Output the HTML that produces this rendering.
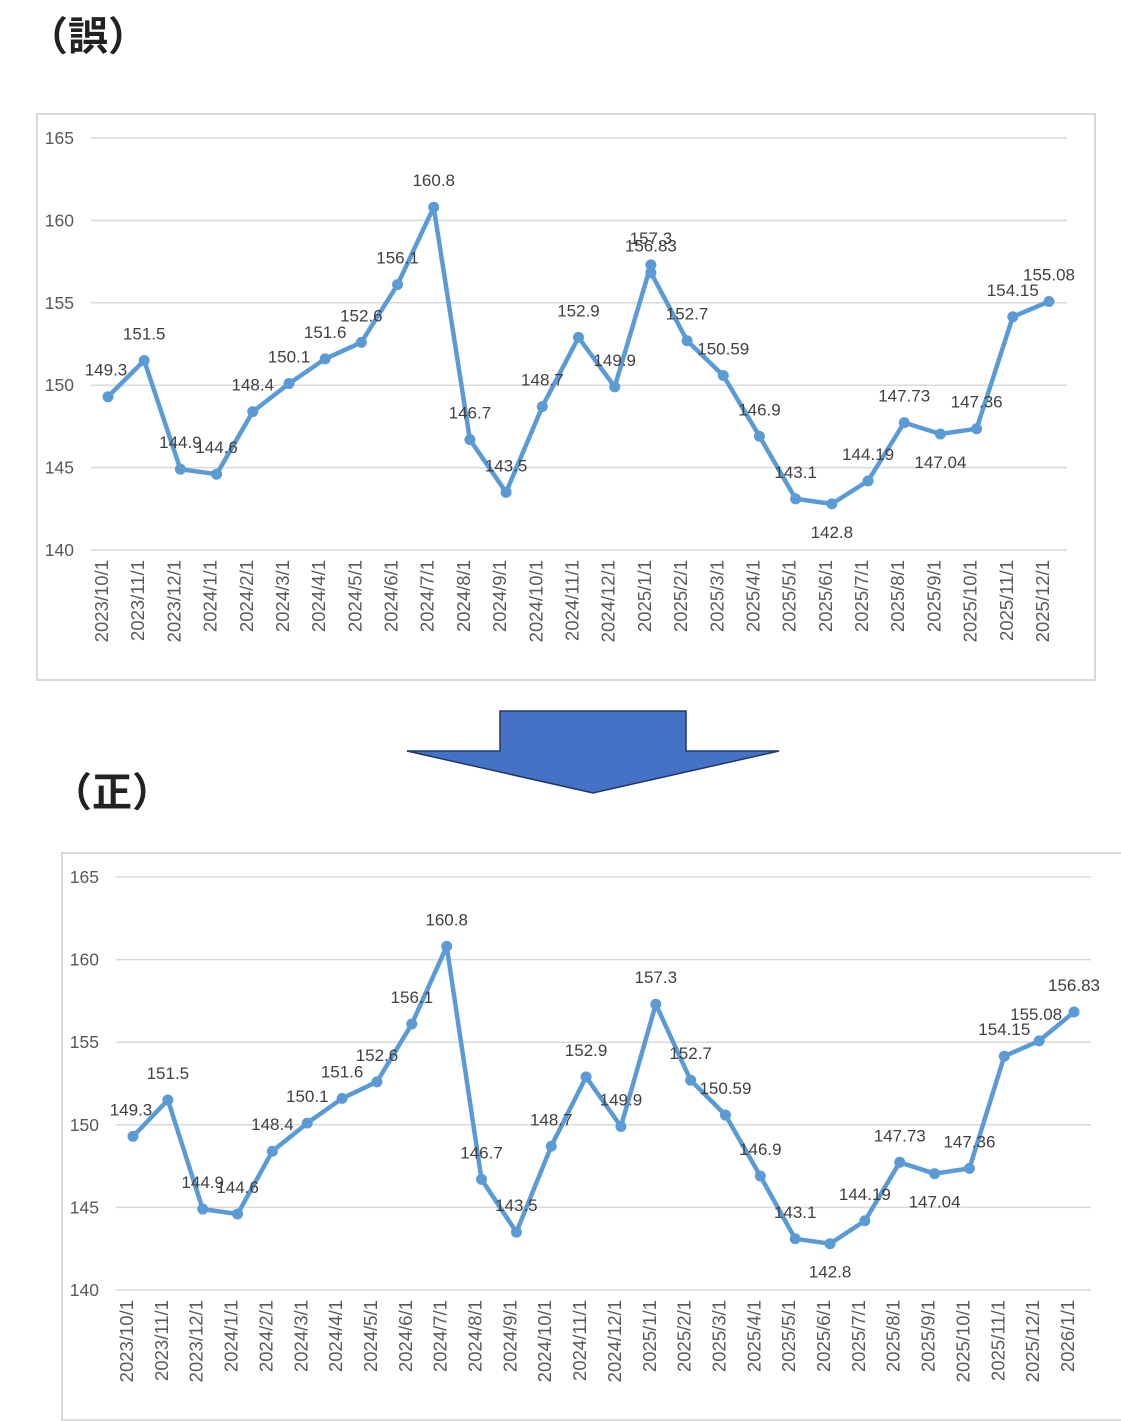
<!DOCTYPE html>
<html><head><meta charset="utf-8"><style>
html,body{margin:0;padding:0;background:#fff;width:1121px;height:1421px;overflow:hidden}
svg{position:absolute;left:0;top:0}
text{font-family:"Liberation Sans","Noto Sans CJK JP",sans-serif}
</style></head><body>
<svg id="s" width="1121" height="1421" xmlns="http://www.w3.org/2000/svg">
<text x="28" y="50" font-size="40" font-weight="bold" fill="#222">（誤）</text>
<text x="52" y="806" font-size="40" font-weight="bold" fill="#222">（正）</text>
<polygon points="500,711 686,711 686,751 779,751 593,793 407,751 500,751" fill="#4472c4" stroke="#1f3864" stroke-width="1.5"/>
</svg>
<script>
var s=document.getElementById('s'),NS='http://www.w3.org/2000/svg';
function el(t,a,txt){var e=document.createElementNS(NS,t);for(var k in a)e.setAttribute(k,a[k]);if(txt!=null)e.textContent=txt;s.appendChild(e);return e;}
function chart(o){
 el('rect',{x:o.bx,y:o.by,width:o.bw,height:o.bh,fill:'#fff',stroke:'#d9d9d9','stroke-width':2});
 var sc=(o.y140-o.y165)/25;
 function Y(v){return o.y140-(v-140)*sc;}
 for(var v=140;v<=165;v+=5){var y=Y(v);el('line',{x1:o.gx1,x2:o.gx2,y1:y,y2:y,stroke:'#d9d9d9','stroke-width':1.5});
  el('text',{x:o.gx1-17,y:y+6,'font-size':17.5,fill:'#595959','text-anchor':'end'},v);}
 var n=o.cats.length,st=(o.xl-o.x0)/(n-1);
 function X(i){return o.x0+i*st;}
 o.cats.forEach(function(c,i){var x=X(i),y=o.y140+16;
  el('text',{x:x+6,y:y,'font-size':18.5,fill:'#595959','text-anchor':'end',transform:'rotate(-90 '+x+' '+y+')'},c);});
 var pts=o.pts.map(function(p){return X(p[0]).toFixed(1)+','+Y(p[1]).toFixed(1);}).join(' ');
 el('polyline',{points:pts,fill:'none',stroke:'#5b9bd5','stroke-width':4.5,'stroke-linejoin':'round'});
 o.pts.forEach(function(p){var x=X(p[0]),y=Y(p[1]);el('circle',{cx:x,cy:y,r:5.5,fill:'#5b9bd5'});
  var dy=p[3]?34:-21;el('text',{x:x+(p[4]||0),y:y+dy,'font-size':17,fill:'#404040','text-anchor':'middle'},p[2]);});
}
var vals=[149.3,151.5,144.9,144.6,148.4,150.1,151.6,152.6,156.1,160.8,146.7,143.5,148.7,152.9,149.9,157.3,152.7,150.59,146.9,143.1,142.8,144.19,147.73,147.04,147.36,154.15,155.08];
var below={20:1,23:1};
function cats(n){var r=[],y=2023,m=10;for(var i=0;i<n;i++){r.push(y+'/'+m+'/1');m++;if(m>12){m=1;y++;}}return r;}
var p1=[];vals.forEach(function(v,i){p1.push([i,v,String(v),below[i]]);if(i==15)p1.push([15,156.83,'156.83',0]);});
p1[0][4]=-2;
chart({bx:37,by:114,bw:1058,bh:566,gx1:91,gx2:1067,y165:138,y140:550,x0:108,xl:1049,cats:cats(27),pts:p1});
var p2=[];vals.forEach(function(v,i){p2.push([i,v,String(v),below[i]]);});p2.push([27,156.83,'156.83',0]);
p2[0][4]=-2;p2[26][4]=-3;
chart({bx:62,by:853,bw:1068,bh:567,gx1:116,gx2:1091,y165:877,y140:1290,x0:133,xl:1074,cats:cats(28),pts:p2});
</script>
</body></html>
